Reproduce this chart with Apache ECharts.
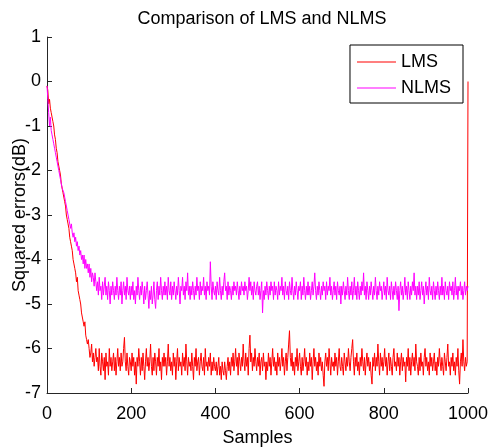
<!DOCTYPE html>
<html>
<head>
<meta charset="utf-8">
<script src="https://cdn.jsdelivr.net/npm/echarts@6/dist/echarts.min.js"></script>
<style>
html,body{margin:0;padding:0;background:#fff;}
#chart{width:491px;height:447px;}
</style>
</head>
<body>
<div id="chart"></div>
<script>
// ---- data ----
var titleText = 'Comparison of LMS and NLMS';
var seriesNames = ['LMS', 'NLMS'];
var xTicks = [0, 200, 400, 600, 800, 1000];
var yTicks = [-7, -6, -5, -4, -3, -2, -1, 0, 1];
var sampleStep = 2; // one reading every 2 samples, from sample 0 to 1000

var lmsDb = [
  -0.1,-0.2,-0.5,-0.4,-0.6,-0.7,-0.8,-0.9,-1.0,-1.2,
  -1.3,-1.5,-1.6,-1.8,-1.9,-2.0,-2.1,-2.3,-2.3,-2.5,
  -2.5,-2.7,-2.8,-3.0,-3.1,-3.2,-3.3,-3.5,-3.6,-3.7,
  -3.8,-4.0,-4.1,-4.2,-4.3,-4.5,-4.4,-4.7,-4.8,-4.9,
  -5.0,-5.2,-5.2,-5.4,-5.5,-5.4,-5.7,-5.8,-5.9,-5.8,
  -6.0,-6.2,-6.1,-5.9,-6.3,-6.1,-6.4,-6.2,-6.0,-6.3,
  -6.2,-6.5,-6.0,-6.4,-6.6,-6.1,-6.3,-6.5,-6.2,-6.7,
  -6.1,-6.4,-6.3,-6.6,-6.0,-6.4,-6.2,-6.5,-6.3,-6.1,
  -6.5,-6.2,-6.6,-6.3,-6.0,-6.4,-6.2,-6.5,-6.1,-6.4,
  -6.3,-6.0,-5.75,-6.3,-6.5,-6.1,-6.4,-6.6,-6.2,-6.3,
  -6.5,-6.1,-6.4,-6.2,-6.6,-6.3,-6.8,-6.2,-6.4,-6.0,
  -6.3,-6.6,-6.2,-6.5,-6.1,-6.4,-6.7,-6.3,-6.0,-6.4,
  -6.2,-6.5,-6.3,-5.9,-6.4,-6.6,-6.2,-6.5,-6.1,-6.3,
  -6.6,-6.2,-6.4,-6.0,-6.5,-6.3,-6.7,-6.2,-6.4,-6.1,
  -6.4,-6.2,-6.6,-6.3,-5.9,-6.4,-6.2,-6.5,-6.3,-6.6,
  -6.1,-6.4,-6.2,-6.7,-6.3,-6.0,-6.5,-6.2,-6.4,-6.3,
  -6.6,-6.1,-6.4,-6.2,-6.5,-5.9,-6.3,-6.6,-6.2,-6.4,
  -6.3,-6.5,-6.1,-6.4,-6.7,-6.2,-6.4,-6.0,-6.5,-6.3,
  -6.2,-6.6,-6.3,-6.1,-6.4,-6.5,-6.2,-6.6,-6.0,-6.4,
  -6.3,-6.5,-6.2,-6.4,-6.1,-6.6,-6.3,-6.5,-6.2,-6.4,
  -6.5,-6.3,-6.6,-6.4,-6.2,-6.6,-6.4,-6.7,-6.3,-6.5,
  -6.6,-6.3,-6.5,-6.7,-6.4,-6.2,-6.5,-6.3,-6.6,-6.2,
  -6.4,-6.1,-6.5,-6.3,-6.0,-6.4,-6.2,-6.6,-6.1,-6.3,
  -6.5,-6.2,-6.4,-5.9,-6.3,-6.5,-6.1,-6.4,-6.2,-6.6,
  -6.0,-5.7,-6.3,-6.1,-6.5,-6.2,-6.4,-6.0,-6.3,-6.5,
  -6.2,-6.4,-6.1,-6.6,-6.3,-6.2,-6.5,-6.1,-6.4,-6.3,
  -6.7,-6.3,-6.5,-6.1,-6.4,-6.2,-6.6,-6.3,-6.0,-6.4,
  -6.2,-6.5,-6.3,-6.6,-6.1,-6.4,-6.2,-6.5,-6.3,-6.0,
  -6.4,-6.2,-6.6,-6.3,-6.1,-6.5,-6.2,-5.9,-5.6,-6.2,
  -6.4,-6.1,-6.5,-6.3,-6.6,-6.2,-6.4,-6.0,-6.5,-6.3,
  -6.1,-6.4,-6.6,-6.2,-6.5,-6.3,-6.0,-6.4,-6.2,-6.6,
  -6.3,-6.5,-6.1,-6.4,-6.2,-6.7,-6.3,-6.0,-6.4,-6.2,
  -6.5,-6.3,-6.6,-6.1,-6.4,-6.2,-6.5,-6.3,-6.6,-6.85,
  -6.3,-6.1,-6.4,-6.2,-6.5,-6.0,-6.3,-6.6,-6.2,-6.4,
  -6.3,-6.5,-6.1,-6.4,-6.2,-6.6,-6.3,-6.0,-6.4,-6.5,
  -6.2,-6.4,-6.6,-6.1,-6.3,-6.5,-6.2,-6.4,-6.0,-6.3,
  -6.5,-6.2,-6.0,-5.8,-6.3,-6.6,-6.2,-6.4,-6.1,-6.5,
  -6.3,-6.6,-6.2,-6.4,-6.0,-6.3,-6.5,-6.2,-6.6,-6.3,
  -6.1,-6.4,-6.2,-6.5,-6.3,-6.6,-6.8,-6.2,-6.4,-6.1,
  -6.5,-6.2,-6.4,-5.9,-6.3,-6.6,-6.1,-6.4,-6.2,-6.5,
  -6.3,-6.0,-6.4,-6.2,-6.6,-6.3,-6.1,-6.5,-6.2,-6.4,
  -6.6,-6.2,-6.0,-6.4,-6.3,-6.5,-6.1,-6.4,-6.2,-6.6,
  -6.3,-6.1,-6.5,-6.2,-6.4,-6.3,-6.75,-6.2,-6.4,-6.0,
  -6.5,-6.2,-6.6,-6.3,-6.1,-6.4,-6.2,-6.5,-5.9,-6.3,
  -6.4,-6.6,-6.2,-6.5,-6.1,-6.4,-6.3,-6.6,-6.2,-6.0,
  -6.4,-6.2,-6.5,-6.3,-6.6,-6.1,-6.4,-6.2,-6.5,-6.3,
  -6.1,-6.5,-6.3,-6.6,-6.2,-6.4,-6.0,-6.3,-6.5,-6.2,
  -6.4,-6.6,-6.1,-6.3,-6.5,-6.2,-5.9,-6.4,-6.3,-6.6,
  -6.2,-6.4,-6.1,-6.5,-6.3,-6.6,-6.2,-6.4,-6.0,-6.5,
  -6.8,-6.3,-6.1,-6.4,-5.8,-6.3,-6.5,-6.2,-6.4,-6.3,
  0.0
];

var nlmsDb = [
  -0.1,-0.4,-0.7,-1.0,-0.8,-1.1,-1.2,-1.3,-1.4,-1.5,
  -1.6,-1.7,-1.8,-1.9,-2.0,-2.1,-2.2,-2.2,-2.4,-2.4,
  -2.5,-2.6,-2.7,-2.7,-2.9,-2.9,-3.1,-3.1,-3.3,-3.2,
  -3.4,-3.5,-3.4,-3.6,-3.5,-3.7,-3.6,-3.8,-3.7,-3.9,
  -3.8,-4.0,-3.9,-4.1,-3.9,-4.2,-4.0,-4.2,-4.1,-4.3,
  -4.1,-4.4,-4.2,-4.5,-4.3,-4.4,-4.6,-4.3,-4.5,-4.7,
  -4.5,-4.8,-4.4,-4.7,-4.6,-4.9,-4.5,-4.8,-4.6,-4.4,
  -4.8,-4.6,-4.9,-4.5,-4.7,-5.0,-4.6,-4.8,-4.5,-4.7,
  -4.9,-4.6,-4.8,-4.4,-4.7,-4.9,-4.6,-4.8,-4.5,-5.0,
  -4.7,-4.5,-4.8,-4.6,-4.9,-4.4,-4.7,-4.8,-4.6,-4.9,
  -4.6,-4.8,-4.5,-4.9,-4.7,-5.0,-4.6,-4.8,-4.4,-4.7,
  -4.9,-4.6,-4.8,-4.5,-4.7,-5.0,-4.6,-4.9,-4.7,-4.5,
  -4.8,-5.1,-4.7,-4.9,-4.6,-5.0,-4.8,-4.5,-4.9,-5.1,
  -4.7,-4.5,-4.9,-4.6,-4.8,-4.4,-4.7,-4.9,-4.6,-4.8,
  -4.5,-4.8,-4.6,-4.9,-4.4,-4.7,-4.8,-4.5,-4.9,-4.6,
  -4.8,-4.5,-4.7,-4.9,-4.6,-4.8,-4.4,-4.7,-5.0,-4.6,
  -4.7,-4.4,-4.8,-4.6,-4.9,-4.5,-4.7,-4.3,-4.8,-4.6,
  -4.9,-4.6,-4.8,-4.5,-4.7,-4.9,-4.6,-4.8,-4.4,-4.7,
  -4.6,-4.9,-4.5,-4.8,-4.6,-4.7,-4.4,-4.8,-4.6,-4.9,
  -4.5,-4.7,-4.6,-4.8,-4.05,-4.6,-4.9,-4.5,-4.7,-4.8,
  -4.6,-4.9,-4.5,-4.7,-4.8,-4.4,-4.7,-4.9,-4.6,-4.8,
  -4.5,-4.3,-4.7,-4.6,-4.9,-4.5,-4.8,-4.6,-4.7,-4.9,
  -4.6,-4.8,-4.5,-4.7,-4.6,-4.8,-4.5,-4.7,-4.9,-4.6,
  -4.8,-4.5,-4.7,-4.6,-4.8,-4.5,-4.7,-4.6,-4.9,-4.7,
  -4.4,-4.7,-4.5,-4.8,-4.6,-4.9,-4.5,-4.7,-4.8,-4.6,
  -4.5,-4.8,-4.6,-4.9,-4.7,-4.5,-5.2,-4.7,-4.9,-4.6,
  -4.8,-4.5,-4.7,-4.9,-4.6,-4.8,-4.5,-4.7,-4.6,-4.9,
  -4.5,-4.8,-4.6,-4.7,-4.9,-4.5,-4.8,-4.6,-4.7,-4.4,
  -4.8,-4.6,-4.9,-4.5,-4.7,-4.8,-4.6,-4.9,-4.5,-4.7,
  -4.8,-4.4,-4.7,-4.9,-4.6,-4.8,-4.5,-4.7,-4.9,-4.6,
  -4.7,-4.5,-4.9,-4.6,-4.8,-4.4,-4.7,-4.9,-4.6,-4.8,
  -4.5,-4.8,-4.6,-4.9,-4.7,-4.5,-4.8,-4.6,-4.3,-4.7,
  -4.9,-4.6,-4.8,-4.5,-4.7,-4.9,-4.6,-4.8,-4.5,-4.7,
  -4.6,-4.9,-4.5,-4.8,-4.6,-4.7,-4.4,-4.8,-4.6,-4.9,
  -4.7,-4.5,-4.8,-4.6,-4.9,-4.5,-4.7,-4.8,-4.6,-5.0,
  -4.6,-4.8,-4.5,-4.7,-4.9,-4.6,-4.8,-4.4,-4.7,-4.9,
  -4.6,-4.8,-4.5,-4.9,-4.7,-4.4,-4.8,-4.6,-4.9,-4.5,
  -4.7,-4.9,-4.6,-4.8,-4.5,-4.7,-4.3,-4.8,-4.6,-4.9,
  -4.5,-4.7,-4.9,-4.6,-4.8,-4.5,-4.7,-4.9,-4.6,-4.8,
  -4.4,-4.7,-4.9,-4.6,-4.8,-4.5,-4.7,-4.6,-4.9,-4.7,
  -4.5,-4.8,-4.6,-4.9,-4.4,-4.7,-4.8,-4.6,-4.9,-4.5,
  -4.7,-4.9,-4.6,-4.8,-4.5,-4.7,-4.9,-4.6,-5.15,-4.7,
  -4.5,-4.8,-4.6,-4.9,-4.7,-4.4,-4.8,-4.6,-4.9,-4.5,
  -4.7,-4.9,-4.6,-4.8,-4.5,-4.7,-4.3,-4.8,-4.6,-4.9,
  -4.6,-4.8,-4.5,-4.9,-4.7,-4.5,-4.8,-4.6,-5.0,-4.7,
  -4.5,-4.8,-4.6,-4.9,-4.4,-4.7,-4.8,-4.6,-4.9,-4.5,
  -4.7,-4.9,-4.6,-4.8,-4.5,-4.7,-4.9,-4.6,-4.8,-4.4,
  -4.8,-4.6,-4.9,-4.5,-4.7,-4.8,-4.6,-4.9,-4.5,-4.7,
  -4.6,-4.8,-4.5,-4.9,-4.7,-4.4,-4.8,-4.6,-4.9,-4.6,
  -4.7,-4.5,-4.8,-4.6,-4.9,-4.7,-4.5,-4.8,-4.6,-4.7,
  -4.6
];

var seriesColors = ['#ff0000', '#ff00ff'];

function toPairs(values) {
  return values.map(function (v, i) { return [i * sampleStep, v]; });
}

var FONT = 'Liberation Sans, Arial, Helvetica, sans-serif';
var axisColor = '#262626';

var chart = echarts.init(document.getElementById('chart'), null, {renderer: 'canvas'});
chart.setOption({
  animation: false,
  backgroundColor: '#ffffff',
  title: {
    text: titleText,
    left: 257, textAlign: 'center',
    top: 5,
    textStyle: {fontFamily: FONT, fontSize: 18, fontWeight: 'normal', color: '#000'}
  },
  grid: {left: 47, right: 23, top: 37, bottom: 54, containLabel: false, outerBoundsMode: 'none'},
  legend: {
    orient: 'vertical',
    right: 28, top: 45,
    data: seriesNames,
    icon: 'rect',
    itemWidth: 39, itemHeight: 1,
    itemGap: 8,
    padding: [8, 12, 6, 7],
    borderColor: '#000', borderWidth: 1,
    backgroundColor: '#fff',
    textStyle: {fontFamily: FONT, fontSize: 18, color: '#000'}
  },
  xAxis: {
    type: 'value',
    min: xTicks[0], max: xTicks[xTicks.length - 1], interval: 200,
    name: 'Samples', nameLocation: 'middle', nameGap: 36, nameMoveOverlap: false,
    nameTextStyle: {fontFamily: FONT, fontSize: 18, color: '#000'},
    axisLine: {show: true, onZero: false, lineStyle: {color: axisColor, width: 1}},
    axisTick: {show: true, inside: true, length: 5, lineStyle: {color: axisColor}},
    axisLabel: {fontFamily: FONT, fontSize: 18, color: '#000', margin: 12,
      formatter: function (v) { return String(v); }},
    splitLine: {show: false}
  },
  yAxis: {
    type: 'value',
    min: yTicks[0], max: yTicks[yTicks.length - 1], interval: 1,
    name: 'Squared errors(dB)', nameLocation: 'middle', nameGap: 18, nameMoveOverlap: false,
    nameTextStyle: {fontFamily: FONT, fontSize: 18, color: '#000'},
    axisLine: {show: true, onZero: false, lineStyle: {color: axisColor, width: 1}},
    axisTick: {show: true, inside: true, length: 5, lineStyle: {color: axisColor}},
    axisLabel: {fontFamily: FONT, fontSize: 18, color: '#000', margin: 6,
      formatter: function (v) { return String(v); }},
    splitLine: {show: false}
  },
  series: [
    {
      name: seriesNames[0], type: 'line', data: toPairs(lmsDb),
      showSymbol: false, symbol: 'none',
      color: seriesColors[0],
      lineStyle: {color: seriesColors[0], width: 1}
    },
    {
      name: seriesNames[1], type: 'line', data: toPairs(nlmsDb),
      showSymbol: false, symbol: 'none',
      color: seriesColors[1],
      lineStyle: {color: seriesColors[1], width: 1}
    }
  ]
});
</script>
</body>
</html>
